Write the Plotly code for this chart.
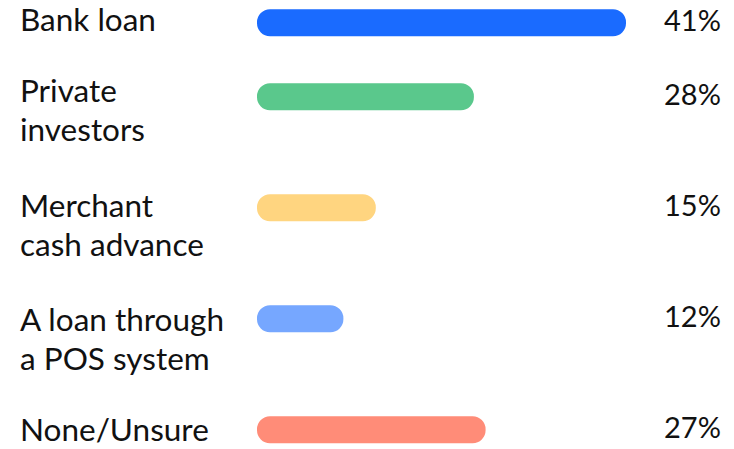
import plotly.graph_objects as go

# ---- data ----
categories = ["Bank loan", "Private<br>investors", "Merchant<br>cash advance",
              "A loan through<br>a POS system", "None/Unsure"]
pct_labels = [41, 28, 15, 12, 27]
# bar lengths as drawn in the source graphic
bar_lengths = [41, 24.1, 13.2, 9.6, 25.4]
colors = ["#1A6BFF", "#5AC88C", "#FFD580", "#76A7FF", "#FF8C78"]

W, H = 734, 449
FONT = "Lato"
FS_LABEL = 31.5
FS_PCT = 29
LINE_GAP = 39
TEXT_COLOR = "#111111"

# row layout derived from number of label lines
lines = [c.split("<br>") for c in categories]
centers, label_y = [], []
c, t = 22.7, 18.7
for ls in lines:
    centers.append(c)
    # keep the last line of each label inside the canvas
    last = t + (len(ls) - 1) * LINE_GAP
    label_y.append(t - max(0, last - (H - 20)))
    c += 37 + 37 * len(ls)
    t += 29 + 42.7 * len(ls)

fig = go.Figure()
# bar drawn from its full length back to 0 (rounded at both ends)
fig.add_trace(go.Bar(
    x=[-v for v in bar_lengths], base=bar_lengths,
    y=centers, orientation="h", width=27,
    marker=dict(color=colors, cornerradius="50%", line=dict(width=0)),
    hoverinfo="skip",
))

annotations = []
for ls, yc, yl, p in zip(lines, centers, label_y, pct_labels):
    for k, txt in enumerate(ls):
        annotations.append(dict(
            x=19 / W, xref="paper", xanchor="left", align="left",
            y=yl + k * LINE_GAP, yref="y", yanchor="middle", borderpad=0,
            text=txt, showarrow=False,
            font=dict(family=FONT, size=FS_LABEL, color=TEXT_COLOR),
        ))
    annotations.append(dict(
        x=662 / W, xref="paper", xanchor="left", align="left",
        y=yc - 3.5, yref="y", yanchor="middle",
        text=f"{p}%", showarrow=False,
        font=dict(family=FONT, size=FS_PCT, color=TEXT_COLOR),
    ))

fig.update_layout(
    width=W, height=H,
    margin=dict(l=0, r=0, t=0, b=0),
    paper_bgcolor="white", plot_bgcolor="white",
    showlegend=False, barmode="overlay",
    xaxis=dict(domain=[257 / W, 626 / W], range=[0, max(bar_lengths)],
               visible=False, fixedrange=True),
    yaxis=dict(range=[H, 0], visible=False, fixedrange=True),
    annotations=annotations,
)

fig.write_html("out.html", config={"displayModeBar": False})
